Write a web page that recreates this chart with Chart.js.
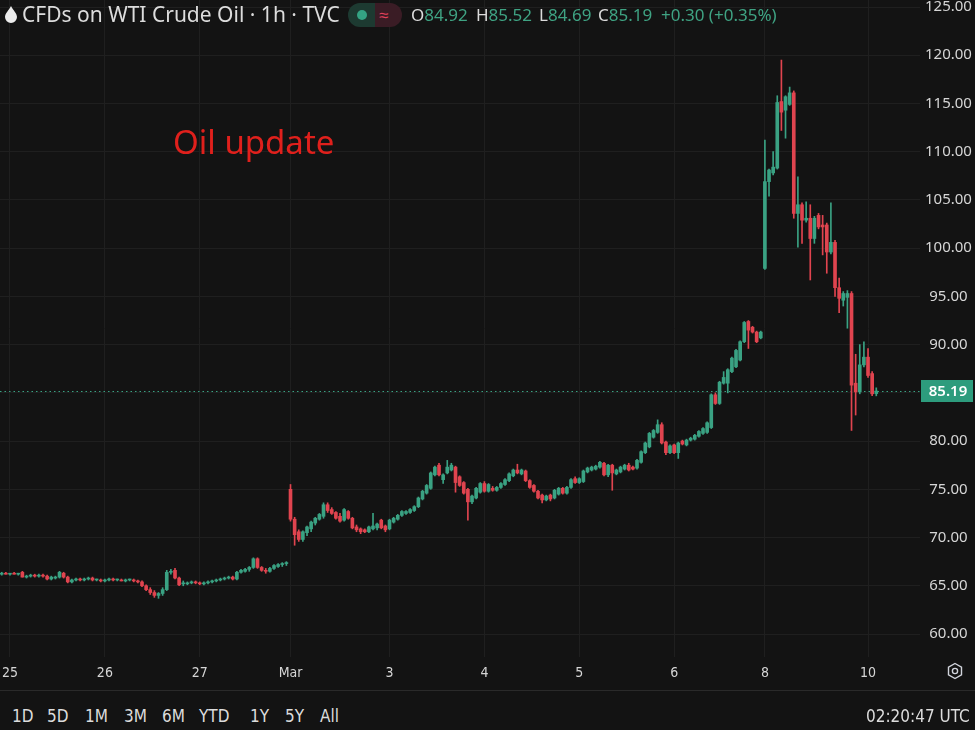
<!DOCTYPE html>
<html lang="en">
<head>
<meta charset="UTF-8">
<title>CFDs on WTI Crude Oil · 1h · TVC</title>
<script src="https://cdn.jsdelivr.net/npm/chart.js"></script>
<style>
  html, body { margin: 0; padding: 0; background: #131313; }
  body { width: 975px; height: 730px; overflow: hidden; position: relative; font-family: "Noto Sans", sans-serif; color: #d1d4dc; }
  #chart { position: absolute; left: 0; top: 0; }
  .abs { position: absolute; white-space: nowrap; }
  #title { left: 22px; top: 0px; font-size: 21px; line-height: 28px; color: #dcdcdc; }
  #drop { left: 5px; top: 6px; }
  #pill { left: 348px; top: 3px; width: 54px; height: 24px; border-radius: 12px; overflow: hidden; display: flex; }
  #pill .g { width: 27px; height: 24px; background: #1d3a31; position: relative; }
  #pill .g i { position: absolute; left: 9px; top: 7px; width: 10px; height: 10px; border-radius: 5px; background: #34a383; }
  #pill .r { width: 27px; height: 24px; background: #3a1c25; color: #e0415c; font-size: 17px; line-height: 24px; text-indent: 4px; }
  .ohlc { top: 2px; font-size: 17px; line-height: 26px; color: #3fa383; }
  .ohlc b { font-weight: normal; color: #dcdcdc; }
  #note { left: 173px; top: 121px; font-size: 33px; line-height: 42px; color: #e0201c; }
  #sep { left: 0; top: 690px; width: 975px; height: 1px; background: #2a2a2a; }
  .rng { top: 703px; font-family: "Liberation Sans Narrow", "DejaVu Sans Condensed", sans-serif; font-stretch: condensed; font-size: 17px; line-height: 26px; color: #dcdcdc; }
  #gear { left: 946px; top: 662px; }
</style>
</head>
<body>
<canvas id="chart" width="975" height="690"></canvas>

<svg id="drop" class="abs" width="12" height="17" viewBox="0 0 12 17"><path d="M6 0 C4 4 0 7.5 0 11 A6 6 0 0 0 12 11 C12 7.5 8 4 6 0 Z" fill="#ececec"/></svg>
<div id="title" class="abs">CFDs on WTI Crude Oil · 1h · TVC</div>
<div id="pill" class="abs"><div class="g"><i></i></div><div class="r">≈</div></div>
<div class="abs ohlc" style="left:411px"><b>O</b>84.92</div>
<div class="abs ohlc" style="left:476px"><b>H</b>85.52</div>
<div class="abs ohlc" style="left:539px"><b>L</b>84.69</div>
<div class="abs ohlc" style="left:598px"><b>C</b>85.19</div>
<div class="abs ohlc" style="left:661px">+0.30 (+0.35%)</div>
<div id="note" class="abs">Oil update</div>

<svg id="gear" class="abs" width="18" height="18" viewBox="0 0 18 18"><path d="M9 1.5 L15.5 5.25 L15.5 12.75 L9 16.5 L2.5 12.75 L2.5 5.25 Z" fill="none" stroke="#d1d4dc" stroke-width="1.4"/><circle cx="9" cy="9" r="2.6" fill="none" stroke="#d1d4dc" stroke-width="1.4"/></svg>
<div id="sep" class="abs"></div>
<div class="abs rng" style="left:12px">1D</div>
<div class="abs rng" style="left:47px">5D</div>
<div class="abs rng" style="left:85px">1M</div>
<div class="abs rng" style="left:124px">3M</div>
<div class="abs rng" style="left:162px">6M</div>
<div class="abs rng" style="left:199px">YTD</div>
<div class="abs rng" style="left:250px">1Y</div>
<div class="abs rng" style="left:285px">5Y</div>
<div class="abs rng" style="left:320px">All</div>
<div class="abs rng" style="left:866px">02:20:47 UTC</div>

<script>
// hourly candles, index 0 = first bar on the left (Feb 24 late), last = Mar 10 02:00
const opens = [
  66.2,66.3,66.2,66.3,66.2,66.4,65.9,66.0,66.1,66.0,
  66.1,66.0,65.7,65.8,65.9,66.3,65.9,65.4,65.6,65.7,
  65.6,65.7,65.8,65.6,65.6,65.5,65.6,65.7,65.6,65.6,
  65.5,65.6,65.6,65.5,65.4,65.0,64.6,64.3,64.0,64.2,
  64.6,66.4,66.6,65.8,65.2,65.2,65.3,65.4,65.3,65.2,
  65.3,65.4,65.5,65.6,65.7,65.8,65.9,65.7,66.4,66.5,
  66.7,66.9,67.8,66.9,66.6,66.5,66.8,67.0,67.2,67.3,
  75.0,71.9,70.6,69.8,70.5,70.9,71.5,71.9,72.2,73.4,
  72.9,72.6,72.2,71.8,72.7,72.0,71.1,70.9,70.8,70.6,
  70.9,71.0,71.8,71.2,70.9,71.6,71.9,72.3,72.5,72.6,
  72.8,73.2,74.0,74.6,75.1,76.5,77.5,76.0,76.7,77.0,
  77.3,76.3,75.7,75.0,73.7,74.1,74.7,75.6,74.8,75.1,
  74.9,75.2,75.5,75.9,76.4,77.0,76.6,76.9,75.9,75.4,
  74.8,74.4,73.9,74.4,74.1,74.5,75.1,74.6,75.2,76.1,
  75.7,75.8,76.8,77.0,77.1,77.3,77.7,76.5,77.5,76.6,
  76.8,77.1,77.5,77.3,77.2,77.8,78.8,79.4,80.4,80.9,
  81.7,79.9,78.8,79.6,78.8,80.0,79.6,80.1,80.2,80.5,
  80.8,80.9,81.4,84.8,83.9,86.0,86.0,87.2,87.7,88.4,
  90.3,92.4,91.8,91.3,90.7,97.9,106.9,107.8,108.3,115.2,
  114.3,114.9,116.1,103.6,104.5,102.9,103.1,101.0,103.4,102.4,
  102.4,99.6,100.6,95.9,94.6,94.9,95.3,86.0,85.1,87.9,
  88.7,87.0,84.92
];
const highs = [
  66.4,66.4,66.3,66.4,66.3,66.5,66.1,66.2,66.2,66.2,
  66.2,66.1,66.0,66.0,66.5,66.4,66.0,65.7,65.8,65.8,
  65.8,65.9,65.9,65.7,65.7,65.7,65.8,65.8,65.7,65.7,
  65.7,65.7,65.7,65.6,65.5,65.1,64.8,64.5,64.3,64.8,
  66.6,66.7,66.8,65.9,65.5,65.4,65.5,65.5,65.4,65.4,
  65.5,65.6,65.7,65.8,65.9,66.0,66.0,66.5,66.7,66.8,
  67.0,67.9,67.9,67.0,66.8,66.9,67.2,67.3,67.4,67.5,
  75.5,72.1,70.8,70.7,71.2,71.7,72.1,72.5,73.6,73.6,
  73.1,72.7,72.5,73.0,72.8,72.1,71.3,71.0,70.9,71.2,
  72.5,71.5,71.9,71.3,71.9,72.1,72.4,72.8,72.8,73.0,
  73.3,74.2,74.9,75.5,76.8,77.4,77.7,76.6,78.0,77.7,
  77.4,76.4,75.8,75.1,74.4,75.2,75.7,75.8,75.6,75.3,
  75.3,75.7,76.1,76.7,77.1,77.6,77.1,77.0,76.0,75.5,
  74.9,74.5,74.4,74.5,75.0,75.2,75.2,75.3,76.1,76.3,
  76.2,77.0,77.3,77.4,77.5,77.9,77.8,77.6,77.6,77.1,
  77.4,77.6,77.7,77.4,78.1,79.0,79.9,80.9,81.2,82.2,
  81.9,80.0,79.6,79.7,79.9,80.1,80.2,80.4,80.7,81.1,
  81.4,82.0,84.9,85.0,86.2,87.2,87.5,88.7,89.5,90.4,
  92.4,92.5,91.9,91.4,91.4,111.2,108.2,110.0,115.8,119.5,
  115.8,116.7,116.3,107.4,104.7,104.8,104.5,103.3,103.6,103.4,
  102.6,104.7,100.8,96.9,95.5,95.6,95.5,89.0,90.0,90.3,
  89.6,87.2,85.52
];
const lows = [
  66.1,66.2,66.1,66.2,66.1,65.9,65.8,65.9,65.9,65.9,
  65.9,65.6,65.6,65.7,65.8,65.8,65.3,65.3,65.5,65.5,
  65.5,65.6,65.5,65.5,65.4,65.4,65.5,65.5,65.5,65.5,
  65.4,65.5,65.4,65.3,64.9,64.5,64.1,63.8,63.7,64.0,
  64.5,66.2,65.7,65.0,65.0,65.1,65.2,65.2,65.1,65.1,
  65.2,65.3,65.4,65.5,65.6,65.7,65.6,65.6,66.3,66.4,
  66.5,66.8,66.8,66.5,66.3,66.4,66.7,66.9,67.0,67.1,
  71.7,69.2,69.6,69.6,70.2,70.6,71.3,71.8,72.0,72.6,
  72.4,71.9,71.6,71.7,71.9,70.9,70.6,70.4,70.5,70.5,
  70.8,70.8,70.9,70.6,70.8,71.5,71.8,72.2,72.4,72.5,
  72.7,73.1,73.9,74.5,75.0,76.4,76.4,75.6,76.6,76.9,
  74.7,75.3,74.5,71.8,73.5,74.0,74.6,74.7,74.7,74.8,
  74.8,75.1,75.4,75.8,76.3,76.6,76.5,75.8,75.1,74.7,
  74.0,73.6,73.8,73.8,74.0,74.4,74.5,74.5,75.1,75.6,
  75.6,75.7,76.7,76.9,77.0,77.2,76.4,76.3,74.9,76.5,
  76.7,77.0,76.9,77.0,77.1,77.7,78.7,79.3,80.3,80.8,
  79.7,78.6,78.7,78.7,78.2,79.6,79.5,80.0,80.1,80.4,
  80.7,80.8,81.3,83.8,83.8,85.9,85.0,87.1,87.6,88.3,
  90.2,89.6,91.2,90.2,90.6,97.8,105.4,107.6,108.2,112.2,
  111.4,114.8,103.1,100.1,100.5,102.7,96.7,100.5,102.0,99.3,
  97.4,99.4,95.0,93.3,94.0,91.7,81.1,82.7,84.9,87.7,
  86.6,84.7,84.69
];
const closes = [
  66.3,66.2,66.3,66.2,66.2,65.9,66.0,66.1,66.0,66.1,
  66.0,65.7,65.9,65.9,66.4,65.9,65.4,65.6,65.7,65.6,
  65.7,65.8,65.6,65.6,65.5,65.6,65.7,65.6,65.6,65.5,
  65.6,65.6,65.5,65.4,65.0,64.6,64.3,64.0,64.2,64.6,
  66.4,66.5,65.8,65.1,65.2,65.3,65.4,65.3,65.2,65.3,
  65.4,65.5,65.6,65.7,65.8,65.9,65.7,66.4,66.6,66.7,
  66.9,67.8,66.9,66.6,66.5,66.8,67.1,67.2,67.3,67.4,
  71.9,70.3,69.8,70.6,71.1,71.6,72.0,72.4,73.4,72.8,
  72.5,72.0,71.7,72.9,72.0,71.0,70.8,70.6,70.6,71.1,
  71.2,71.4,71.0,70.8,71.8,72.0,72.3,72.7,72.7,72.9,
  73.2,74.1,74.8,75.4,76.7,77.3,76.5,76.5,77.3,77.5,
  75.7,75.4,74.6,73.7,74.3,75.1,75.6,74.8,75.5,74.9,
  75.2,75.6,76.0,76.6,77.0,76.7,77.0,75.9,75.2,74.8,
  74.1,73.9,74.3,74.0,74.9,75.1,74.6,75.2,76.0,75.7,
  76.1,76.9,77.2,77.3,77.4,77.8,76.5,77.5,76.7,77.0,
  77.3,77.5,77.0,77.1,78.0,78.9,79.8,80.8,81.1,81.7,
  79.8,78.8,79.5,78.8,79.8,79.7,80.1,80.3,80.6,81.0,
  81.3,81.9,84.8,83.9,86.1,86.6,87.4,88.6,89.4,90.3,
  92.3,91.5,91.3,90.3,91.3,106.9,108.1,108.4,115.1,114.1,
  115.7,116.1,103.6,104.5,102.9,103.1,101.0,103.1,102.2,102.2,
  99.6,100.6,95.9,94.8,95.3,95.3,85.8,85.1,87.9,88.7,
  86.8,84.9,85.19
];

// day labels sit on the bar index where that day starts
const dayTicks = [2, 25, 48, 70, 94, 117, 140, 163, 185, 210];
const dayLabels = ['25', '26', '27', 'Mar', '3', '4', '5', '6', '8', '10'];
const priceTicks = [60, 65, 70, 75, 80, 85, 90, 95, 100, 105, 110, 115, 120, 125];

const UP = '#3aa283';
const DOWN = '#e0444f';
const GRID = '#1f1f1f';
const TEXT = '#d6d6d6';
const NARROW = '"Liberation Sans Narrow", "DejaVu Sans Condensed", sans-serif';
const lastPrice = closes[closes.length - 1];

const colors = closes.map((c, i) => c >= opens[i] ? UP : DOWN);
const wicks = closes.map((c, i) => ({ x: i, y: [lows[i], highs[i]] }));
const bodies = closes.map((c, i) => ({ x: i, y: [Math.min(opens[i], c), Math.max(opens[i], c)] }));

const priceLine = {
  id: 'priceLine',
  beforeDatasetsDraw(chart) {
    const { ctx, chartArea, scales } = chart;
    const py = Math.round(scales.y.getPixelForValue(lastPrice)) + 0.5;
    ctx.save();
    ctx.strokeStyle = UP;
    ctx.lineWidth = 1;
    ctx.setLineDash([1.5, 3]);
    ctx.beginPath();
    ctx.moveTo(chartArea.left, py);
    ctx.lineTo(chartArea.right, py);
    ctx.stroke();
    ctx.restore();
  },
  afterDraw(chart) {
    const { ctx, chartArea, scales } = chart;
    const py = Math.round(scales.y.getPixelForValue(lastPrice));
    ctx.save();
    ctx.fillStyle = '#2d9c7d';
    ctx.fillRect(chartArea.right + 1, py - 11, 52, 22);
    ctx.fillStyle = '#ffffff';
    ctx.font = '600 15px "Noto Sans"';
    ctx.textAlign = 'center';
    ctx.textBaseline = 'middle';
    ctx.fillText(lastPrice.toFixed(2), chartArea.right + 28, py + 1);
    ctx.restore();
  }
};

new Chart(document.getElementById('chart'), {
  type: 'bar',
  data: {
    datasets: [
      { data: wicks, backgroundColor: colors, barThickness: 1, grouped: false, order: 2 },
      { data: bodies, backgroundColor: colors, barThickness: 3, grouped: false, minBarLength: 1, order: 1 }
    ]
  },
  options: {
    responsive: false,
    animation: false,
    layout: { padding: 0 },
    plugins: { legend: { display: false }, tooltip: { enabled: false } },
    scales: {
      x: {
        type: 'linear',
        offset: false,
        min: -0.424,
        max: 222.6,
        afterBuildTicks: s => { s.ticks = dayTicks.map(v => ({ value: v })); },
        afterFit: s => { s.height = 33; s.paddingLeft = 0; s.paddingRight = 0; },
        ticks: {
          callback: (v, i) => dayLabels[i],
          color: TEXT,
          font: { family: NARROW, size: 14 },
          padding: 0,
          maxRotation: 0,
          autoSkip: false
        },
        grid: { color: GRID, offset: false, drawTicks: true, tickLength: 8, tickColor: 'transparent' },
        border: { display: false }
      },
      y: {
        position: 'right',
        min: 57.616,
        max: 125.726,
        afterBuildTicks: s => { s.ticks = priceTicks.map(v => ({ value: v })); },
        afterFit: s => { s.width = 55; s.paddingTop = 0; s.paddingBottom = 0; },
        ticks: {
          callback: v => v.toFixed(2),
          color: TEXT,
          font: { family: '"Noto Sans"', size: 15 },
          crossAlign: 'center',
          padding: 5
        },
        grid: { color: GRID, drawTicks: false },
        border: { display: false }
      }
    }
  },
  plugins: [priceLine]
});
</script>
</body>
</html>
